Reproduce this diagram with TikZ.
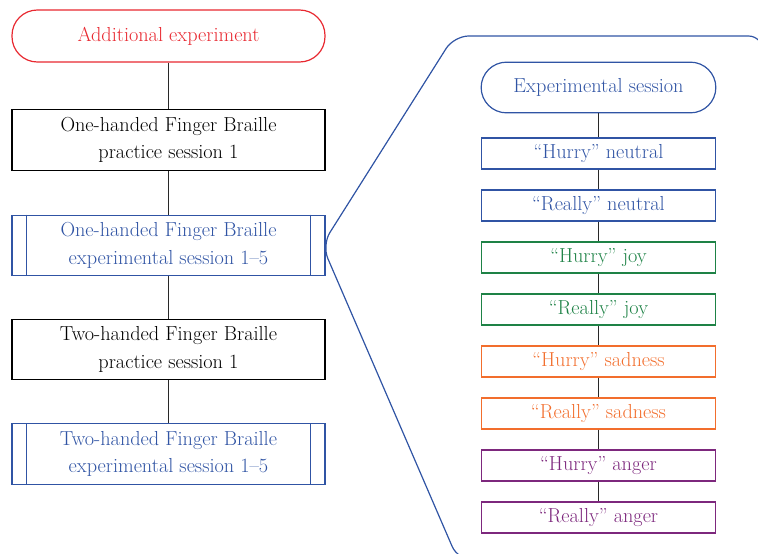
\documentclass[tikz,border=0pt]{standalone}
\usetikzlibrary{positioning}
\definecolor{cred}{RGB}{232,40,48}
\definecolor{cblue}{RGB}{48,84,164}
\definecolor{cgreen}{RGB}{30,130,70}
\definecolor{corange}{RGB}{242,110,45}
\definecolor{cpurple}{RGB}{125,40,125}
\definecolor{cline}{RGB}{40,40,40}
\begin{document}
\begin{tikzpicture}[x=0.75pt,y=-0.75pt,
  txt/.style={font=\fontsize{15.2}{20.5}\selectfont, align=center, inner sep=0pt},
  term/.style={txt, draw, line width=0.9pt, rounded corners=19pt, minimum width=234.75pt, minimum height=39pt},
  lbox/.style={txt, draw, line width=0.9pt, minimum width=234.75pt, minimum height=45.5pt},
  rterm/.style={txt, draw, line width=0.9pt, rounded corners=19pt, minimum width=176pt, minimum height=38pt},
  rbox/.style={txt, draw, line width=0.9pt, minimum width=176pt, minimum height=23.25pt},
  conn/.style={draw=cline, line width=0.9pt}]
\useasboundingbox (0,0) rectangle (758,554);
% left flow
\node[term, draw=cred, text=cred] (a) at (168.5,36) {Additional experiment};
\node[lbox, draw=black, text=black] (b1) at (168.5,140) {One-handed Finger Braille\\practice session 1};
\node[lbox, draw=cblue, text=cblue] (b2) at (168.5,245.5) {One-handed Finger Braille\\experimental session 1--5};
\node[lbox, draw=black, text=black] (b3) at (168.5,349.5) {Two-handed Finger Braille\\practice session 1};
\node[lbox, draw=cblue, text=cblue] (b4) at (168.5,454) {Two-handed Finger Braille\\experimental session 1--5};
\foreach \n in {b2,b4}{
  \draw[cblue, line width=0.9pt] ([xshift=11.25pt]\n.north west) -- ([xshift=11.25pt]\n.south west);
  \draw[cblue, line width=0.9pt] ([xshift=-11.25pt]\n.north east) -- ([xshift=-11.25pt]\n.south east);
}
\draw[conn] (a) -- (b1);
\draw[conn] (b1) -- (b2);
\draw[conn] (b2) -- (b3);
\draw[conn] (b3) -- (b4);
% panel
\begin{scope}
\clip (0,0) rectangle (758,554);
\draw[cblue, line width=0.9pt, rounded corners=11pt] (800,560) -- (458,560) -- (322,245) -- (454,36) -- (763,36) -- (763,620);
\end{scope}
% right flow
\node[rterm, draw=cblue, text=cblue] (s) at (598.5,87.5) {Experimental session};
\node[rbox, draw=cblue, text=cblue] (r1) at (598.5,153.5) {``Hurry'' neutral};
\node[rbox, draw=cblue, text=cblue] (r2) at (598.5,205.5) {``Really'' neutral};
\node[rbox, draw=cgreen, text=cgreen] (r3) at (598.5,257.5) {``Hurry'' joy};
\node[rbox, draw=cgreen, text=cgreen] (r4) at (598.5,309.5) {``Really'' joy};
\node[rbox, draw=corange, text=corange] (r5) at (598.5,361.5) {``Hurry'' sadness};
\node[rbox, draw=corange, text=corange] (r6) at (598.5,413.5) {``Really'' sadness};
\node[rbox, draw=cpurple, text=cpurple] (r7) at (598.5,465.5) {``Hurry'' anger};
\node[rbox, draw=cpurple, text=cpurple] (r8) at (598.5,517.5) {``Really'' anger};
\draw[conn] (s) -- (r1);
\draw[conn] (r1) -- (r2);
\draw[conn] (r2) -- (r3);
\draw[conn] (r3) -- (r4);
\draw[conn] (r4) -- (r5);
\draw[conn] (r5) -- (r6);
\draw[conn] (r6) -- (r7);
\draw[conn] (r7) -- (r8);
\end{tikzpicture}
\end{document}
